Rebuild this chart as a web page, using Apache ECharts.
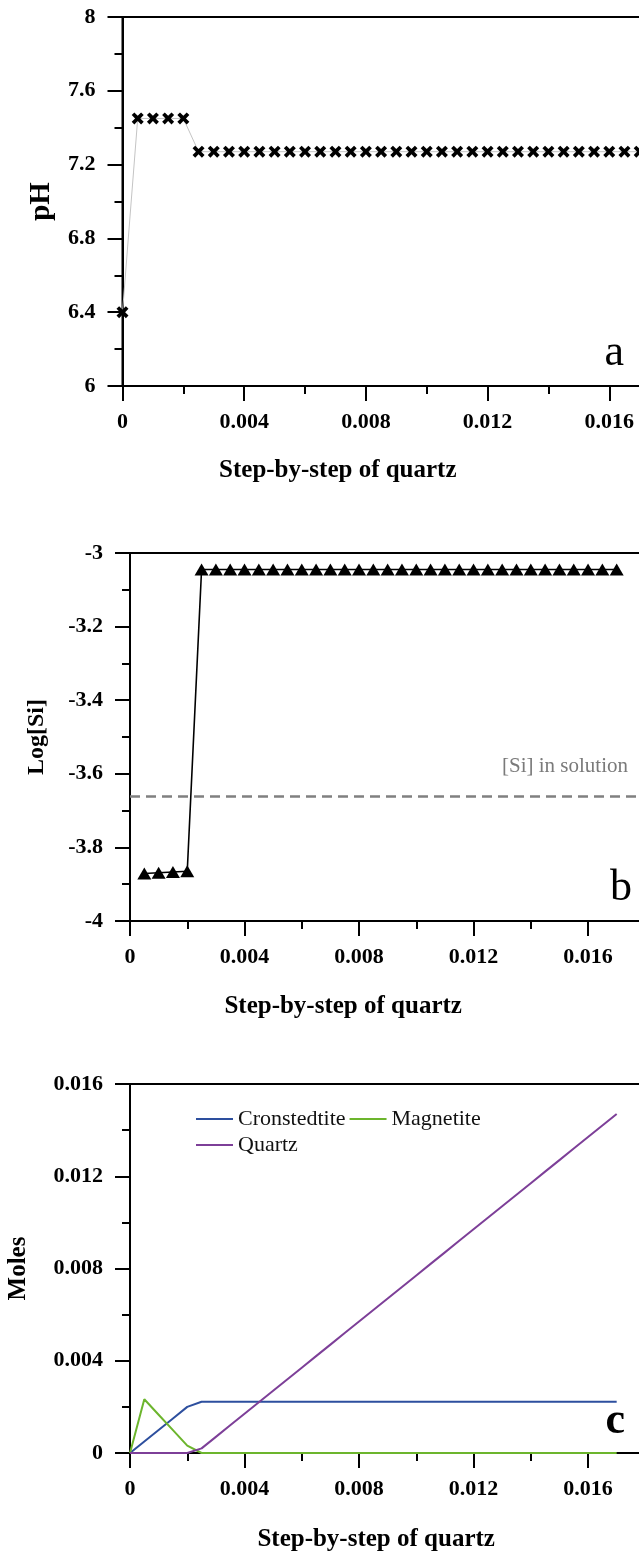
<!DOCTYPE html>
<html>
<head>
<meta charset="utf-8">
<script src="https://cdn.jsdelivr.net/npm/echarts@6/dist/echarts.min.js"></script>
<style>
html,body{margin:0;padding:0;background:#fff;}
#chart{width:639px;height:1555px;}
</style>
</head>
<body>
<div id="chart"></div>
<script>
// ---- data ----
const steps = [0, 0.0005, 0.001, 0.0015, 0.002, 0.0025, 0.003, 0.0035, 0.004, 0.0045,
  0.005, 0.0055, 0.006, 0.0065, 0.007, 0.0075, 0.008, 0.0085, 0.009, 0.0095,
  0.01, 0.0105, 0.011, 0.0115, 0.012, 0.0125, 0.013, 0.0135, 0.014, 0.0145,
  0.015, 0.0155, 0.016, 0.0165, 0.017];
const pH = [6.4, 7.45, 7.45, 7.45, 7.45, 7.27, 7.27, 7.27, 7.27, 7.27,
  7.27, 7.27, 7.27, 7.27, 7.27, 7.27, 7.27, 7.27, 7.27, 7.27,
  7.27, 7.27, 7.27, 7.27, 7.27, 7.27, 7.27, 7.27, 7.27, 7.27,
  7.27, 7.27, 7.27, 7.27, 7.27];
const siSteps = [0.0005, 0.001, 0.0015, 0.002, 0.0025, 0.003, 0.0035, 0.004, 0.0045,
  0.005, 0.0055, 0.006, 0.0065, 0.007, 0.0075, 0.008, 0.0085, 0.009, 0.0095,
  0.01, 0.0105, 0.011, 0.0115, 0.012, 0.0125, 0.013, 0.0135, 0.014, 0.0145,
  0.015, 0.0155, 0.016, 0.0165, 0.017];
const logSi = [-3.871, -3.869, -3.867, -3.865, -3.045, -3.045, -3.045, -3.045, -3.045,
  -3.045, -3.045, -3.045, -3.045, -3.045, -3.045, -3.045, -3.045, -3.045, -3.045,
  -3.045, -3.045, -3.045, -3.045, -3.045, -3.045, -3.045, -3.045, -3.045, -3.045,
  -3.045, -3.045, -3.045, -3.045, -3.045];
const siSolution = -3.656;
const cronstedtite = [0, 0.0005, 0.001, 0.0015, 0.002, 0.00222, 0.00222, 0.00222, 0.00222, 0.00222,
  0.00222, 0.00222, 0.00222, 0.00222, 0.00222, 0.00222, 0.00222, 0.00222, 0.00222, 0.00222,
  0.00222, 0.00222, 0.00222, 0.00222, 0.00222, 0.00222, 0.00222, 0.00222, 0.00222, 0.00222,
  0.00222, 0.00222, 0.00222, 0.00222, 0.00222];
const magnetite = [0, 0.00233, 0.00166, 0.00099, 0.00032, 0, 0, 0, 0, 0,
  0, 0, 0, 0, 0, 0, 0, 0, 0, 0,
  0, 0, 0, 0, 0, 0, 0, 0, 0, 0,
  0, 0, 0, 0, 0];
const quartz = [0, 0, 0, 0, 0, 0.0002, 0.0007, 0.0012, 0.0017, 0.0022,
  0.0027, 0.0032, 0.0037, 0.0042, 0.0047, 0.0052, 0.0057, 0.0062, 0.0067, 0.0072,
  0.0077, 0.0082, 0.0087, 0.0092, 0.0097, 0.0102, 0.0107, 0.0112, 0.0117, 0.0122,
  0.0127, 0.0132, 0.0137, 0.0142, 0.0147];
const seriesNames = ['Cronstedtite', 'Magnetite', 'Quartz'];
const xTitle = 'Step-by-step of quartz';
const yTitles = ['pH', 'Log[Si]', 'Moles'];
const panelLetters = ['a', 'b', 'c'];
const siLabel = '[Si] in solution';

// ---- build ----
const pairs = (xs, ys) => xs.map((x, i) => [x, ys[i]]);
const SERIF = '"Liberation Serif","Times New Roman",serif';
const crossPath = 'path://M0,2.2 L2.2,0 L5,2.8 L7.8,0 L10,2.2 L7.2,5 L10,7.8 L7.8,10 L5,7.2 L2.2,10 L0,7.8 L2.8,5 Z';

function xAxisCfg(gridIndex, namePadRight, nameGap) {
  return {
    type: 'value', gridIndex: gridIndex, min: 0, max: 0.018, interval: 0.004,
    name: xTitle, nameLocation: 'middle', nameGap: nameGap,
    nameTextStyle: { fontFamily: SERIF, fontWeight: 'bold', fontSize: 25, color: '#000', padding: [0, namePadRight, 0, 0] },
    axisLine: { show: true, onZero: false, lineStyle: { color: '#000', width: 2 } },
    axisTick: { show: true, inside: false, length: 15, lineStyle: { color: '#000', width: 2 } },
    minorTick: { show: true, splitNumber: 2, length: 8, lineStyle: { color: '#000', width: 2 } },
    axisLabel: { fontFamily: SERIF, fontWeight: 'bold', fontSize: 22, color: '#000', margin: 25,
      formatter: v => (v > 0.0175 ? '' : String(+v.toFixed(3))) },
    splitLine: { show: false }
  };
}
function yAxisCfg(gridIndex, min, max, interval, name, nameGap, nameSize) {
  return {
    type: 'value', gridIndex: gridIndex, min: min, max: max, interval: interval,
    name: name, nameLocation: 'middle', nameGap: nameGap, nameRotate: 90,
    nameTextStyle: { fontFamily: SERIF, fontWeight: 'bold', fontSize: nameSize, color: '#000' },
    axisLine: { show: true, onZero: false, lineStyle: { color: '#000', width: 2 } },
    axisTick: { show: true, inside: false, length: 15, lineStyle: { color: '#000', width: 2 } },
    minorTick: { show: true, splitNumber: 2, length: 8, lineStyle: { color: '#000', width: 2 } },
    axisLabel: { fontFamily: SERIF, fontWeight: 'bold', fontSize: 22, color: '#000', margin: 27,
      formatter: v => String(+v.toFixed(3)) },
    splitLine: { show: false }
  };
}

const gridBase = { show: true, borderColor: '#000', borderWidth: 2, backgroundColor: 'transparent', containLabel: false, outerBoundsMode: 'none' };

const chart = echarts.init(document.getElementById('chart'), null, { renderer: 'canvas' });
chart.setOption({
  animation: false,
  backgroundColor: '#fff',
  grid: [
    Object.assign({ left: 122.5, top: 17, width: 547.6, height: 369 }, gridBase),
    Object.assign({ left: 130, top: 553, width: 515.3, height: 368 }, gridBase),
    Object.assign({ left: 130, top: 1084, width: 515.3, height: 369 }, gridBase)
  ],
  xAxis: [
    xAxisCfg(0, 117, 72),
    xAxisCfg(1, 89, 73),
    xAxisCfg(2, 23, 74)
  ],
  yAxis: [
    yAxisCfg(0, 6, 8, 0.4, yTitles[0], 66, 29),
    yAxisCfg(1, -4, -3, 0.2, yTitles[1], 81, 24),
    yAxisCfg(2, 0, 0.016, 0.004, yTitles[2], 99, 25)
  ],
  legend: {
    data: seriesNames,
    left: 191, top: 1103, width: 300,
    orient: 'horizontal',
    itemWidth: 37, itemHeight: 14, itemGap: 4,
    icon: 'path://M0,6 L37,6 L37,8 L0,8 Z',
    textStyle: { fontFamily: SERIF, fontSize: 22, color: '#111', padding: [0, 0, 0, 0] },
    formatter: n => n
  },
  series: [
    {
      name: 'pH', type: 'line', xAxisIndex: 0, yAxisIndex: 0,
      data: pairs(steps, pH),
      symbol: crossPath, symbolSize: 12, showAllSymbol: true,
      itemStyle: { color: '#000' },
      lineStyle: { color: '#c4c4c4', width: 1 },
      clip: false
    },
    {
      name: 'Log[Si]', type: 'line', xAxisIndex: 1, yAxisIndex: 1,
      data: pairs(siSteps, logSi),
      symbol: 'triangle', symbolSize: [14, 12], showAllSymbol: true,
      itemStyle: { color: '#000' },
      lineStyle: { color: '#000', width: 1.6 },
      clip: false,
      markLine: {
        silent: true, symbol: 'none',
        lineStyle: { color: '#808080', width: 2.5, type: [10, 6] },
        label: { show: false },
        data: [{ yAxis: siSolution }]
      }
    },
    {
      name: seriesNames[0], type: 'line', xAxisIndex: 2, yAxisIndex: 2,
      data: pairs(steps, cronstedtite), symbol: 'none',
      itemStyle: { color: '#2d4f9e' }, lineStyle: { color: '#2d4f9e', width: 2 }
    },
    {
      name: seriesNames[1], type: 'line', xAxisIndex: 2, yAxisIndex: 2,
      data: pairs(steps, magnetite), symbol: 'none',
      itemStyle: { color: '#6cb52d' }, lineStyle: { color: '#6cb52d', width: 2 }
    },
    {
      name: seriesNames[2], type: 'line', xAxisIndex: 2, yAxisIndex: 2,
      data: pairs(steps, quartz), symbol: 'none',
      itemStyle: { color: '#7d3f98' }, lineStyle: { color: '#7d3f98', width: 2 }
    }
  ],
  graphic: [
    { type: 'text', right: 15, top: 331, style: { text: panelLetters[0], font: '44px ' + SERIF, fill: '#000' } },
    { type: 'text', right: 7, top: 866, style: { text: panelLetters[1], font: '44px ' + SERIF, fill: '#000' } },
    { type: 'text', right: 14, top: 1400, style: { text: panelLetters[2], font: 'bold 44px ' + SERIF, fill: '#000' } },
    { type: 'text', right: 11, top: 756, style: { text: siLabel, font: '21px ' + SERIF, fill: '#7a7a7a' } }
  ]
});
</script>
</body>
</html>
